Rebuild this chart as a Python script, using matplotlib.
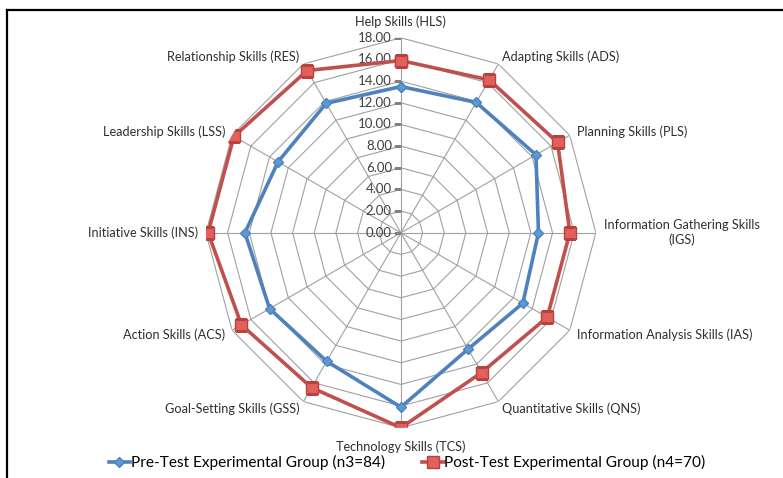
import numpy as np
import matplotlib.pyplot as plt
from matplotlib.lines import Line2D

plt.rcParams['font.family'] = ['Lato', 'DejaVu Sans']

# Skill categories (clockwise from top)
categories = ['Help Skills (HLS)', 'Adapting Skills (ADS)', 'Planning Skills (PLS)',
              'Information Gathering Skills\n(IGS)', 'Information Analysis Skills (IAS)',
              'Quantitative Skills (QNS)', 'Technology Skills (TCS)', 'Goal-Setting Skills (GSS)',
              'Action Skills (ACS)', 'Initiative Skills (INS)', 'Leadership Skills (LSS)',
              'Relationship Skills (RES)']
pre_test = [13.5, 13.9, 14.4, 12.7, 13.0, 12.4, 16.1, 13.7, 14.0, 14.4, 13.1, 13.8]
post_test = [15.9, 16.3, 16.7, 15.6, 15.6, 14.9, 18.0, 16.5, 17.0, 17.8, 17.8, 17.3]
levels = [0, 2, 4, 6, 8, 10, 12, 14, 16, 18]
pre_label = 'Pre-Test Experimental Group (n3=84)'
post_label = 'Post-Test Experimental Group (n4=70)'

blue = '#4F81BD'
red = '#C0504D'
grid_col = '#A0A0A0'

n = len(categories)
theta = np.linspace(0, 2 * np.pi, n, endpoint=False)
theta_c = np.append(theta, theta[0])

fig = plt.figure(figsize=(7.83, 4.78), dpi=100)
ax = fig.add_axes([0.263, 0.105, 0.498, 0.816], projection='polar')
ax.set_theta_zero_location('N')
ax.set_theta_direction(-1)
ax.set_ylim(0, 18)
ax.grid(False)
ax.spines['polar'].set_visible(False)
ax.set_xticks([])
ax.set_yticks([])
ax.patch.set_alpha(0)

# polygon grid
for lv in levels[1:]:
    ax.plot(theta_c, [lv] * (n + 1), color=grid_col, lw=0.8, zorder=1)
for t in theta:
    ax.plot([t, t], [0, 18], color=grid_col, lw=0.8, zorder=1)

# radial tick labels
for lv in levels:
    ax.plot([0], [lv], marker=0, color='#808080', ms=5, mew=0.8, zorder=2)
    ax.annotate(f'{lv:.2f}', xy=(0, lv), xytext=(-9, 0), textcoords='offset pixels',
                ha='right', va='center', fontsize=9.5, color='#404040')

# series
ax.plot(theta_c, pre_test + pre_test[:1], color=blue, lw=2.6, marker='D', ms=5.5,
        mfc='#5B9BD5', mec=blue, label=pre_label, zorder=4)
ax.plot(theta_c, post_test + post_test[:1], color=red, lw=2.6, marker='s', ms=8,
        mfc='#E0605C', mec='#B8403D', label=post_label, zorder=3)

# category labels
for t, lab in zip(theta, categories):
    deg = np.degrees(t)
    dx, dy = np.sin(t), np.cos(t)
    if np.isclose(deg, 0):
        ha, off = 'center', (0, 16)
    elif np.isclose(deg, 180):
        ha, off = 'center', (0, -19)
    else:
        ha = 'left' if deg < 180 else 'right'
        off = (dx * 8, dy * 8)
    ax.annotate(lab, xy=(t, 18), xytext=off, textcoords='offset pixels',
                ha=ha, va='center', multialignment='center', fontsize=9.2, color='#303030')

fig.legend(loc='center', bbox_to_anchor=(0.52, 0.032), ncol=2, frameon=False,
           fontsize=11.1, handlelength=1.4, handletextpad=0.05, columnspacing=2.4)

# screenshot border (top and left)
fig.add_artist(Line2D([0.009, 1.0], [0.979, 0.979], color='black', lw=1.6))
fig.add_artist(Line2D([0.009, 0.009], [0.0, 0.979], color='black', lw=1.6))

plt.savefig('out.png', dpi=100)
